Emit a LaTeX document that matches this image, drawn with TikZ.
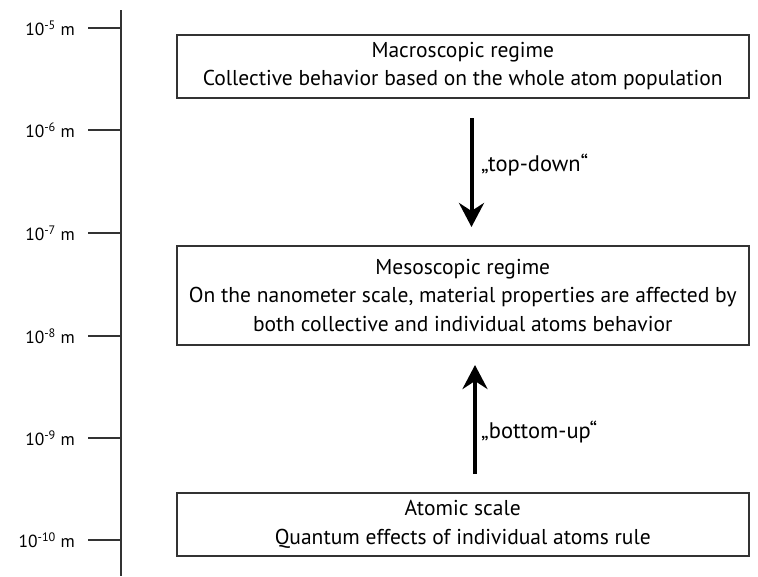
\documentclass[tikz,border=0pt]{standalone}
\usepackage{fontspec}
\setmainfont{PT Sans}
\usetikzlibrary{arrows.meta}
\begin{document}
\begin{tikzpicture}[x=1pt,y=-1pt,
  regbox/.style={draw=black!80, line width=1.5pt, minimum width=572pt, anchor=north west, inner sep=0pt, align=center, font=\fontsize{21.5}{28.5}\selectfont},
  tickline/.style={draw=black!80, line width=1.5pt},
  ticklab/.style={anchor=east, font=\fontsize{17.5}{20}\selectfont, inner sep=0pt},
  bigarrow/.style={line width=4pt, -{Stealth[length=24pt,width=25pt,inset=8pt]}},
  arrlab/.style={anchor=west, font=\fontsize{22.5}{24}\selectfont, inner sep=0pt}]
\useasboundingbox (0,0) rectangle (758,576);
% axis
\coordinate (axtop) at (121,10);
\coordinate (axbot) at (121,576);
\draw[tickline] (axtop) -- (axbot);
\foreach \y/\e [count=\i] in {28/5,130/6,233/7,336/8,438/9,540/10}{
  \coordinate (t\i) at (88,\y);
  \coordinate (a\i) at (121,\y);
  \draw[tickline] (t\i) -- (a\i);
  \node[ticklab] (l\i) at (75,\y) {10\textsuperscript{-\e} m};
}
% boxes
\node[regbox, minimum height=63pt] (macro) at (176,34) {Macroscopic regime\\Collective behavior based on the whole atom population};
\node[regbox, minimum height=99pt] (meso) at (176,245) {Mesoscopic regime\\On the nanometer scale, material properties are affected by\\both collective and individual atoms behavior};
\node[regbox, minimum height=63pt] (atom) at (176,492) {Atomic scale\\Quantum effects of individual atoms rule};
% arrows
\coordinate (tdS) at (471.5,118);
\coordinate (tdE) at (471.5,227);
\draw[bigarrow] (tdS) -- (tdE);
\node[arrlab] (tdl) at (481,165) {„top-down“};
\coordinate (buS) at (475,474);
\coordinate (buE) at (475,365);
\draw[bigarrow] (buS) -- (buE);
\node[arrlab] (bul) at (481,432) {„bottom-up“};
\end{tikzpicture}
\end{document}
